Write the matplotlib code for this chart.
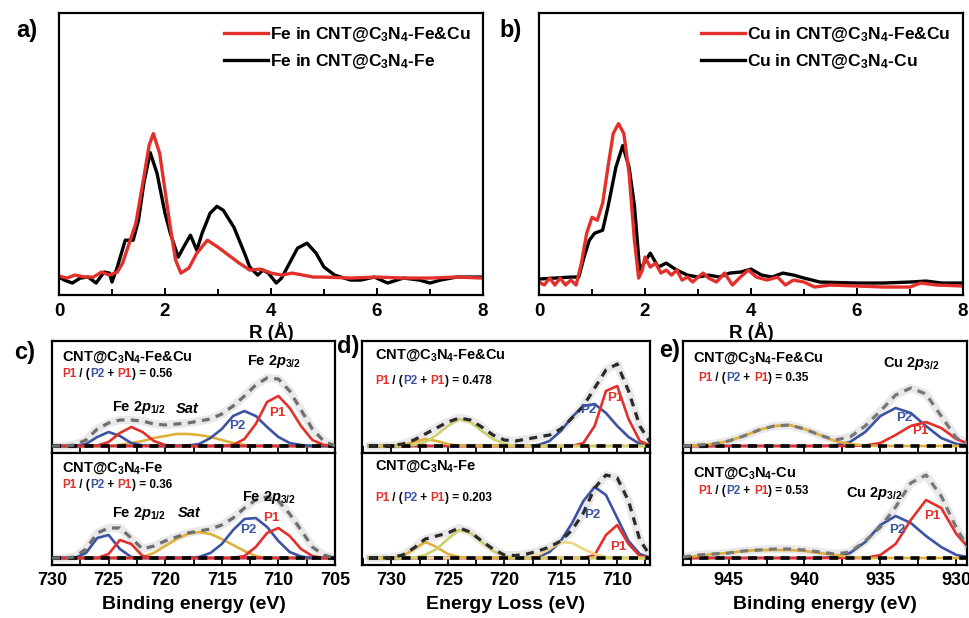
import matplotlib
matplotlib.use('Agg')
import matplotlib.pyplot as plt
from matplotlib.ticker import MultipleLocator
import numpy as np

plt.rcParams['font.family'] = ['Liberation Sans', 'DejaVu Sans']
plt.rcParams['font.weight'] = 'bold'
plt.rcParams['axes.labelweight'] = 'bold'
plt.rcParams['mathtext.fontset'] = 'custom'
plt.rcParams['mathtext.rm'] = 'Liberation Sans:bold'
plt.rcParams['mathtext.it'] = 'Liberation Sans:italic:bold'
plt.rcParams['mathtext.bf'] = 'Liberation Sans:bold'
plt.rcParams['axes.linewidth'] = 1.6

RED = '#e3302a'
BLUE = '#3c53a4'
GOLD = '#e0b03c'
OLIVE = '#cfcf6e'
PALE = '#f0d48c'

# ---------- a) Fe K-edge FT-EXAFS ----------
fe_ref_r = [0, 0.1, 0.25, 0.4, 0.55, 0.7, 0.85, 0.95, 1.0, 1.1,
            1.25, 1.4, 1.5, 1.6, 1.72, 1.85, 2.0, 2.1, 2.25, 2.35,
            2.48, 2.6, 2.7, 2.85, 2.98, 3.1, 3.3, 3.5, 3.6, 3.75,
            3.85, 3.95, 4.1, 4.2, 4.35, 4.5, 4.68, 4.85, 5.0, 5.2,
            5.5, 5.7, 5.95, 6.2, 6.5, 6.8, 7.0, 7.2, 7.5, 8.0]
fe_ref_ft = [18, 15, 12, 17, 18, 12, 23, 22, 13, 28,
             55, 55, 75, 112, 143, 122, 82, 62, 38, 48,
             60, 45, 62, 82, 89, 85, 68, 42, 28, 20,
             25, 22, 12, 17, 32, 47, 52, 42, 28, 20,
             15, 15, 18, 12, 17, 15, 12, 15, 18, 18]
fe_dual_r = [0, 0.15, 0.3, 0.5, 0.65, 0.8, 0.95, 1.1, 1.2, 1.3,
             1.45, 1.6, 1.7, 1.78, 1.9, 2.0, 2.1, 2.2, 2.3, 2.45,
             2.6, 2.8, 3.0, 3.2, 3.4, 3.6, 3.8, 4.0, 4.2, 4.4,
             4.6, 4.8, 5.0, 5.5, 6.0, 6.5, 7.0, 7.5, 8.0]
fe_dual_ft = [19, 17, 20, 18, 18, 23, 20, 23, 32, 48,
              72, 118, 150, 162, 142, 105, 68, 35, 22, 27,
              42, 55, 48, 40, 32, 25, 26, 22, 20, 22,
              20, 18, 18, 17, 18, 17, 17, 18, 17]

# ---------- b) Cu K-edge FT-EXAFS ----------
cu_dual_r = [0, 0.1, 0.2, 0.3, 0.4, 0.5, 0.6, 0.7, 0.8, 0.9,
             1.0, 1.1, 1.2, 1.3, 1.4, 1.5, 1.6, 1.7, 1.8, 1.88,
             1.95, 2.0, 2.1, 2.2, 2.3, 2.4, 2.5, 2.6, 2.7, 2.8,
             2.9, 3.0, 3.1, 3.2, 3.35, 3.5, 3.65, 3.8, 3.95, 4.1,
             4.3, 4.5, 4.65, 4.8, 5.0, 5.2, 5.5, 6.0, 6.5, 7.0,
             7.2, 7.5, 8.0]
cu_dual_ft = [13, 10, 17, 10, 17, 10, 15, 10, 32, 62,
              78, 75, 92, 128, 162, 172, 162, 122, 55, 17,
              25, 38, 28, 32, 22, 25, 20, 25, 15, 18,
              13, 18, 22, 17, 13, 22, 10, 18, 25, 18,
              15, 18, 10, 15, 13, 8, 10, 9, 8, 8,
              12, 10, 9]
cu_ref_r = [0, 0.3, 0.6, 0.75, 0.85, 0.95, 1.05, 1.2, 1.3, 1.45,
            1.58, 1.7, 1.8, 1.9, 1.98, 2.1, 2.25, 2.4, 2.6, 2.8,
            3.0, 3.2, 3.4, 3.6, 3.8, 4.0, 4.2, 4.4, 4.6, 4.8,
            5.0, 5.3, 6.0, 6.5, 7.0, 7.3, 7.6, 8.0]
cu_ref_ft = [16, 17, 18, 18, 38, 55, 62, 65, 88, 128,
             150, 128, 90, 25, 32, 42, 28, 32, 25, 20,
             18, 20, 18, 22, 23, 26, 20, 18, 22, 20,
             17, 13, 12, 12, 13, 14, 12, 12]

# ---------- c) Fe 2p XPS ----------
fe_be = [730, 729, 728, 727, 726, 725, 724, 723, 722, 721, 720, 719, 718,
         717, 716, 715, 714, 713, 712, 711, 710, 709, 708, 707, 706, 705]
c1_p2_half = [0, 0, 0, 2, 9, 14, 10, 3, 0.5, 0, 0, 0, 0, 0, 0, 0, 0, 0, 0, 0, 0, 0, 0, 0, 0, 0]
c1_p1_half = [0, 0, 0, 0, 0.5, 4, 13, 19, 14, 5, 1, 0, 0, 0, 0, 0, 0, 0, 0, 0, 0, 0, 0, 0, 0, 0]
c1_sat = [0, 0, 0, 0, 0, 0, 1, 3, 5, 8, 10, 12, 12, 11, 9, 6, 3, 1, 0, 0, 0, 0, 0, 0, 0, 0]
c1_p2 = [0, 0, 0, 0, 0, 0, 0, 0, 0, 0, 0, 0, 0.5, 2, 8, 17, 30, 35, 30, 19, 9, 3, 1, 0, 0, 0]
c1_p1 = [0, 0, 0, 0, 0, 0, 0, 0, 0, 0, 0, 0, 0, 0, 0, 0, 1, 7, 22, 44, 50, 38, 20, 6, 1, 0]
c1_env = [0, 0, 1, 6, 17, 23, 26, 26, 25, 22, 21, 22, 23, 25, 27, 32, 40, 50, 61, 68, 67, 55, 36, 17, 5, 0]

c2_p2_half = [0, 0, 0, 5, 20, 23, 9, 1, 0, 0, 0, 0, 0, 0, 0, 0, 0, 0, 0, 0, 0, 0, 0, 0, 0, 0]
c2_p1_half = [0, 0, 0, 0, 0, 4, 18, 14, 2, 0, 0, 0, 0, 0, 0, 0, 0, 0, 0, 0, 0, 0, 0, 0, 0, 0]
c2_sat = [0, 0, 0, 0, 0, 0, 0, 0, 1, 5, 12, 19, 24, 26, 24, 19, 13, 7, 2, 0, 0, 0, 0, 0, 0, 0]
c2_p2 = [0, 0, 0, 0, 0, 0, 0, 0, 0, 0, 0, 0, 0, 1, 5, 14, 28, 39, 40, 31, 17, 6, 1.5, 0, 0, 0]
c2_p1 = [0, 0, 0, 0, 0, 0, 0, 0, 0, 0, 0, 0, 0, 0, 0, 0, 0, 2, 11, 25, 30, 22, 9, 2, 0, 0]
c2_env = [0, 0, 1, 9, 25, 30, 30, 20, 9, 12, 17, 21, 25, 27, 29, 33, 40, 50, 58, 61, 57, 44, 28, 11, 3, 0]

# ---------- d) Fe L-edge EELS ----------
eels_e = [732, 731, 730, 729, 728, 727, 726, 725, 724, 723, 722, 721, 720,
          719, 718, 717, 716, 715, 714, 713, 712, 711, 710, 709, 708, 707]
d1_y1 = [0, 0, 0, 1, 4, 7, 5, 2, 0.5, 0, 0, 0, 0, 0, 0, 0, 0, 0, 0, 0, 0, 0, 0, 0, 0, 0]
d1_y2 = [0, 0, 0, 0, 1, 4, 11, 20, 27, 24, 15, 7, 2, 0, 0, 0, 0, 0, 0, 0, 0, 0, 0, 0, 0, 0]
d1_p2 = [0, 0, 0, 0, 0, 0, 0, 0, 0, 0, 0, 0, 0, 0, 0, 1, 5, 15, 29, 40, 42, 33, 20, 9, 2, 0]
d1_p1 = [0, 0, 0, 0, 0, 0, 0, 0, 0, 0, 0, 0, 0, 0, 0, 0, 0, 0, 0, 3, 20, 55, 60, 27, 5, 0]
d1_env = [0, 0, 0.5, 2, 6, 12, 18, 24, 28, 26, 19, 11, 6, 5, 7, 9, 11, 17, 28, 40, 58, 76, 82, 55, 20, 2]

d2_y1 = [0, 0, 0, 2, 9, 16, 11, 4, 1, 0, 0, 0, 0, 0, 0, 0, 0, 0, 0, 0, 0, 0, 0, 0, 0, 0]
d2_y2 = [0, 0, 0, 0, 0.5, 3, 9, 19, 28, 25, 16, 7, 2, 0, 0, 0, 0, 0, 0, 0, 0, 0, 0, 0, 0, 0]
d2_y3 = [0, 0, 0, 0, 0, 0, 0, 0, 0, 0, 0, 0, 0, 0, 0, 3, 9, 16, 15, 9, 4, 1, 0, 0, 0, 0]
d2_p2 = [0, 0, 0, 0, 0, 0, 0, 0, 0, 0, 0, 0, 0, 0, 0, 1, 6, 17, 35, 57, 71, 63, 40, 17, 4, 0]
d2_p1 = [0, 0, 0, 0, 0, 0, 0, 0, 0, 0, 0, 0, 0, 0, 0, 0, 0, 0, 0, 0, 3, 23, 33, 14, 2, 0]
d2_env = [0, 0, 0.5, 3, 10, 19, 22, 25, 30, 26, 17, 9, 3, 2.5, 4, 7, 11, 17, 28, 45, 70, 83, 80, 57, 18, 1]

# ---------- e) Cu 2p XPS ----------
cu_be = [948, 947, 946, 945, 944, 943, 942, 941, 940, 939,
         938, 937, 936, 935, 934, 933, 932, 931, 930, 929]
e1_sat = [0, 0.5, 2, 5, 10, 16, 20, 21, 17, 11, 5, 2, 0.5, 0, 0, 0, 0, 0, 0, 0]
e1_p2 = [0, 0, 0, 0, 0, 0, 0, 0, 0, 0, 0.5, 4, 14, 30, 38, 33, 20, 8, 2, 0]
e1_p1 = [0, 0, 0, 0, 0, 0, 0, 0, 0, 0, 0, 0, 0.5, 3, 11, 20, 24, 18, 7, 1]
e1_env = [0, 1, 2, 5, 10, 16, 20, 21, 17, 11, 6, 9, 20, 35, 51, 58, 52, 30, 8, 1]

e2_sat = [1, 2, 4, 5, 7, 8, 8, 8, 7, 5, 3, 1, 0, 0, 0, 0, 0, 0, 0, 0]
e2_p2 = [0, 0, 0, 0, 0, 0, 0, 0, 0, 0, 1, 5, 16, 33, 42, 35, 22, 11, 3, 0.5]
e2_p1 = [0, 0, 0, 0, 0, 0, 0, 0, 0, 0, 0, 0, 0, 3, 14, 38, 58, 50, 24, 7]
e2_env = [1, 3, 4, 5, 7, 8, 9, 9, 8, 6, 4, 6, 17, 31, 51, 75, 83, 62, 30, 5]

sample_names = {'dual': r'CNT@C$_3$N$_4$-Fe&Cu', 'fe': r'CNT@C$_3$N$_4$-Fe',
                'cu': r'CNT@C$_3$N$_4$-Cu'}
ratios = {'c1': '0.56', 'c2': '0.36', 'd1': '0.478', 'd2': '0.203',
          'e1': '0.35', 'e2': '0.53'}

W, H = 970, 618
fig = plt.figure(figsize=(W / 100, H / 100), dpi=100)


def box(l, t, r, b):
    return [l / W, 1 - b / H, (r - l) / W, (b - t) / H]


def exafs_axes(ax):
    ax.set_xlim(0, 8)
    ax.set_ylim(0, 283)
    ax.set_yticks([])
    ax.xaxis.set_major_locator(MultipleLocator(2))
    ax.xaxis.set_minor_locator(MultipleLocator(1))
    ax.tick_params(axis='x', which='both', direction='in', width=1.4, labelsize=13.5, pad=6)
    ax.tick_params(axis='x', which='major', length=5)
    ax.tick_params(axis='x', which='minor', length=4)
    ax.set_xlabel('R (Å)', fontsize=13.5, fontweight='bold', labelpad=1)


ax_a = fig.add_axes(box(59, 13, 483, 295))
ax_a.plot(fe_ref_r, fe_ref_ft, color='black', lw=2.4, label=r'Fe in CNT@C$_3$N$_4$-Fe')
ax_a.plot(fe_dual_r, fe_dual_ft, color=RED, lw=2.4, label=r'Fe in CNT@C$_3$N$_4$-Fe&Cu')
exafs_axes(ax_a)
h, l = ax_a.get_legend_handles_labels()
ax_a.legend(h[::-1], l[::-1], loc='upper right', frameon=False, fontsize=12.5,
            handlelength=2.5, handletextpad=0.15, borderaxespad=0.3, labelspacing=0.45)

ax_b = fig.add_axes(box(539, 13, 963, 295))
ax_b.plot(cu_ref_r, cu_ref_ft, color='black', lw=2.4, label=r'Cu in CNT@C$_3$N$_4$-Cu')
ax_b.plot(cu_dual_r, cu_dual_ft, color=RED, lw=2.4, label=r'Cu in CNT@C$_3$N$_4$-Fe&Cu')
exafs_axes(ax_b)
h, l = ax_b.get_legend_handles_labels()
ax_b.legend(h[::-1], l[::-1], loc='upper right', frameon=False, fontsize=12.5,
            handlelength=2.5, handletextpad=0.15, borderaxespad=0.3, labelspacing=0.45)


def xps_axes(ax, xlim, bottom, xlabel=None):
    ax.set_xlim(xlim)
    ax.set_ylim(-7, 105)
    ax.set_yticks([])
    ax.xaxis.set_major_locator(MultipleLocator(5))
    ax.xaxis.set_minor_locator(MultipleLocator(2.5))
    ax.tick_params(axis='x', which='both', direction='in', width=1.3, length=5,
                   labelsize=13, labelbottom=bottom, pad=5)
    if xlabel:
        ax.set_xlabel(xlabel, fontsize=14, fontweight='bold', labelpad=5)


def draw_fit(ax, x, comps, env, env_color):
    ax.plot(x, env, color='#c8c8c8', lw=6, alpha=0.4, zorder=1, solid_capstyle='round')
    for vals, col in comps:
        ax.plot(x, vals, color=col, lw=1.9, zorder=2)
    ax.plot(x, np.zeros(len(x)), color='black', lw=2.6, dashes=(2.5, 2), zorder=3)
    ax.plot(x, env, color=env_color, lw=2.3, dashes=(2.5, 2), zorder=4)


def ratio_text(ax, x, y, value):
    parts = [('P1', RED), (' / (', 'black'), ('P2', BLUE), (' + ', 'black'),
             ('P1', RED), (') = ' + value, 'black')]
    t = ax.text(x, y, parts[0][0], color=parts[0][1], fontsize=8.5,
                transform=ax.transAxes, ha='left', va='center')
    for s, c in parts[1:]:
        t = ax.annotate(s, xy=(1, 0), xycoords=t, ha='left', va='bottom',
                        color=c, fontsize=8.5)


def peak_label(ax, x, y, s, color, size=9.5):
    ax.text(x, y, s, color=color, fontsize=size, ha='center', va='center', zorder=5)


# c) Fe 2p
c_xlim = (730, 705)
ax_c1 = fig.add_axes(box(52, 341, 335, 453))
draw_fit(ax_c1, fe_be, [(c1_sat, GOLD), (c1_p2_half, BLUE), (c1_p1_half, RED),
                        (c1_p2, BLUE), (c1_p1, RED)], c1_env, '#6e6e6e')
xps_axes(ax_c1, c_xlim, False)
ax_c1.text(0.035, 0.857, sample_names['dual'], transform=ax_c1.transAxes, fontsize=10.5, va='center')
ratio_text(ax_c1, 0.035, 0.705, ratios['c1'])
peak_label(ax_c1, 710.4, 85, r'Fe 2$p_{3/2}$', 'black', 10.5)
peak_label(ax_c1, 722.3, 38, r'Fe 2$p_{1/2}$', 'black', 10.5)
ax_c1.text(718.1, 37, 'Sat', fontsize=10.5, fontstyle='italic', ha='center', va='center')
peak_label(ax_c1, 713.6, 20, 'P2', BLUE)
peak_label(ax_c1, 710.1, 33, 'P1', RED)

ax_c2 = fig.add_axes(box(52, 453, 335, 565))
draw_fit(ax_c2, fe_be, [(c2_sat, GOLD), (c2_p2_half, BLUE), (c2_p1_half, RED),
                        (c2_p2, BLUE), (c2_p1, RED)], c2_env, '#6e6e6e')
xps_axes(ax_c2, c_xlim, True, 'Binding energy (eV)')
ax_c2.text(0.035, 0.866, sample_names['fe'], transform=ax_c2.transAxes, fontsize=10.5, va='center')
ratio_text(ax_c2, 0.035, 0.714, ratios['c2'])
peak_label(ax_c2, 710.8, 61, r'Fe 2$p_{3/2}$', 'black', 10.5)
peak_label(ax_c2, 722.3, 45, r'Fe 2$p_{1/2}$', 'black', 10.5)
ax_c2.text(717.9, 45, 'Sat', fontsize=10.5, fontstyle='italic', ha='center', va='center')
peak_label(ax_c2, 712.7, 28, 'P2', BLUE)
peak_label(ax_c2, 710.6, 40, 'P1', RED)

# d) EELS
d_xlim = (732.6, 707.1)
ax_d1 = fig.add_axes(box(362, 341, 650, 453))
draw_fit(ax_d1, eels_e, [(d1_p2, BLUE), (d1_p1, RED), (d1_y1, GOLD), (d1_y2, OLIVE)],
         d1_env, '#2a2a2a')
xps_axes(ax_d1, d_xlim, False)
ax_d1.text(0.045, 0.875, sample_names['dual'], transform=ax_d1.transAxes, fontsize=10.5, va='center')
ratio_text(ax_d1, 0.045, 0.643, ratios['d1'])
peak_label(ax_d1, 712.6, 36, 'P2', BLUE)
peak_label(ax_d1, 710.2, 48, 'P1', RED)

ax_d2 = fig.add_axes(box(362, 453, 650, 565))
draw_fit(ax_d2, eels_e, [(d2_p2, BLUE), (d2_p1, RED), (d2_y3, PALE), (d2_y1, GOLD), (d2_y2, OLIVE)],
         d2_env, '#2a2a2a')
xps_axes(ax_d2, d_xlim, True, 'Energy Loss (eV)')
ax_d2.text(0.045, 0.884, sample_names['fe'], transform=ax_d2.transAxes, fontsize=10.5, va='center')
ratio_text(ax_d2, 0.045, 0.598, ratios['d2'])
peak_label(ax_d2, 712.2, 43, 'P2', BLUE)
peak_label(ax_d2, 709.9, 11, 'P1', RED)

# e) Cu 2p
e_xlim = (948, 929.3)
ax_e1 = fig.add_axes(box(683, 341, 967, 453))
draw_fit(ax_e1, cu_be, [(e1_p2, BLUE), (e1_p1, RED), (e1_sat, GOLD)], e1_env, '#777777')
xps_axes(ax_e1, e_xlim, False)
ax_e1.text(0.035, 0.848, sample_names['dual'], transform=ax_e1.transAxes, fontsize=10.5, va='center')
ratio_text(ax_e1, 0.053, 0.67, ratios['e1'])
peak_label(ax_e1, 933.0, 83, r'Cu 2$p_{3/2}$', 'black', 10.5)
peak_label(ax_e1, 933.4, 28, 'P2', BLUE)
peak_label(ax_e1, 932.4, 15, 'P1', RED)

ax_e2 = fig.add_axes(box(683, 453, 967, 565))
draw_fit(ax_e2, cu_be, [(e2_p2, BLUE), (e2_p1, RED), (e2_sat, GOLD)], e2_env, '#777777')
xps_axes(ax_e2, e_xlim, True, 'Binding energy (eV)')
ax_e2.text(0.035, 0.82, sample_names['cu'], transform=ax_e2.transAxes, fontsize=10.5, va='center')
ratio_text(ax_e2, 0.053, 0.66, ratios['e2'])
peak_label(ax_e2, 935.4, 65, r'Cu 2$p_{3/2}$', 'black', 10.5)
peak_label(ax_e2, 933.9, 28, 'P2', BLUE)
peak_label(ax_e2, 931.6, 42, 'P1', RED)

# panel letters
for s, x, y in [('a)', 27, 31), ('b)', 511, 31), ('c)', 25, 353), ('d)', 348, 346), ('e)', 670, 350)]:
    fig.text(x / W, 1 - y / H, s, fontsize=17, fontweight='bold', ha='center', va='center')

# tick labels are built at draw time, so make them bold afterwards
fig.canvas.draw()
for ax in fig.axes:
    plt.setp(ax.get_xticklabels(), fontweight='bold')

fig.savefig('out.png', dpi=100)
